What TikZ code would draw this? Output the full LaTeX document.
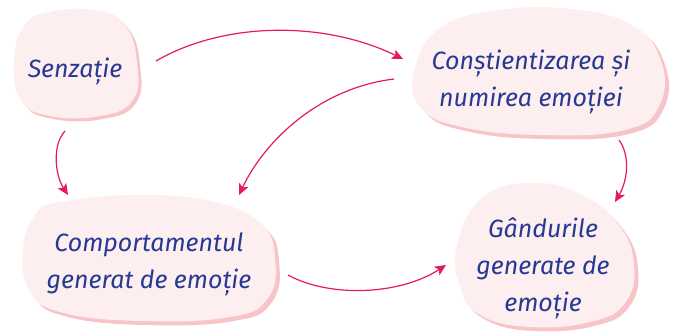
\documentclass[tikz,border=0pt]{standalone}
\usepackage{fontspec}
\setmainfont{Fira Sans}
\usetikzlibrary{arrows.meta}
\definecolor{blobfill}{RGB}{253,238,239}
\definecolor{blobshadow}{RGB}{247,196,200}
\definecolor{arrowpink}{RGB}{229,25,94}
\definecolor{textblue}{RGB}{38,58,148}
\tikzset{
  blobtext/.style={text=textblue, align=center, font=\fontsize{25}{37}\selectfont\itshape, inner sep=0pt},
  connector/.style={draw=arrowpink, line width=1.2pt, -{Stealth[length=11pt,width=10pt,inset=2.5pt]}},
  blobshape/.style={fill=blobfill, draw=none},
  blobshade/.style={fill=blobshadow, draw=none}
}
\begin{document}
\begin{tikzpicture}[x=1pt,y=-1pt]
\useasboundingbox (0,0) rectangle (675,336);
% blob 1
\fill[blobshade, shift={(3,3)}] plot[smooth cycle, tension=0.75] coordinates {(50,12) (95,10) (125,25) (137,62) (133,100) (100,116) (50,116) (21,100) (14,60) (25,25)};
\fill[blobshape] plot[smooth cycle, tension=0.75] coordinates {(50,12) (95,10) (125,25) (137,62) (133,100) (100,116) (50,116) (21,100) (14,60) (25,25)};
% blob 2
\fill[blobshade, shift={(4,4)}] plot[smooth cycle, tension=0.75] coordinates {(440,28) (500,10) (570,9) (630,24) (660,58) (660,104) (625,130) (540,135) (462,127) (421,108) (414,72)};
\fill[blobshape] plot[smooth cycle, tension=0.75] coordinates {(440,28) (500,10) (570,9) (630,24) (660,58) (660,104) (625,130) (540,135) (462,127) (421,108) (414,72)};
% blob 3
\fill[blobshade, shift={(4,4)}] plot[smooth cycle, tension=0.75] coordinates {(60,202) (140,195) (215,202) (261,224) (275,257) (268,298) (230,317) (140,321) (60,312) (29,290) (23,250) (35,215)};
\fill[blobshape] plot[smooth cycle, tension=0.75] coordinates {(60,202) (140,195) (215,202) (261,224) (275,257) (268,298) (230,317) (140,321) (60,312) (29,290) (23,250) (35,215)};
% blob 4
\fill[blobshade, shift={(4,4)}] plot[smooth cycle, tension=0.75] coordinates {(482,198) (530,183) (580,194) (618,224) (634,264) (625,303) (590,322) (530,327) (482,316) (461,290) (457,245)};
\fill[blobshape] plot[smooth cycle, tension=0.75] coordinates {(482,198) (530,183) (580,194) (618,224) (634,264) (625,303) (590,322) (530,327) (482,316) (461,290) (457,245)};
% texts
\node[blobtext] (sen) at (75,71) {Senzație};
\node[blobtext] (con) at (531,82) {Conștientizarea și\\numirea emoției};
\node[blobtext] (com) at (149,264) {Comportamentul\\generat de emoție};
\node[blobtext] (gan) at (543,268) {Gândurile\\generate de\\emoție};
% connector ends
\coordinate (a1s) at (156,61); \coordinate (a1e) at (403,59);
\coordinate (a2s) at (394,79); \coordinate (a2e) at (239,195);
\coordinate (a3s) at (65,131); \coordinate (a3e) at (68,195);
\coordinate (a4s) at (619,140); \coordinate (a4e) at (615,202);
\coordinate (a5s) at (288,275); \coordinate (a5e) at (446,265);
\draw[connector] (a1s) .. controls (225,21) and (325,21) .. (a1e);
\draw[connector] (a2s) .. controls (320,88) and (265,140) .. (a2e);
\draw[connector] (a3s) .. controls (52,145) and (55,175) .. (a3e);
\draw[connector] (a4s) .. controls (630,155) and (628,180) .. (a4e);
\draw[connector] (a5s) .. controls (330,298) and (400,295) .. (a5e);
\end{tikzpicture}
\end{document}
